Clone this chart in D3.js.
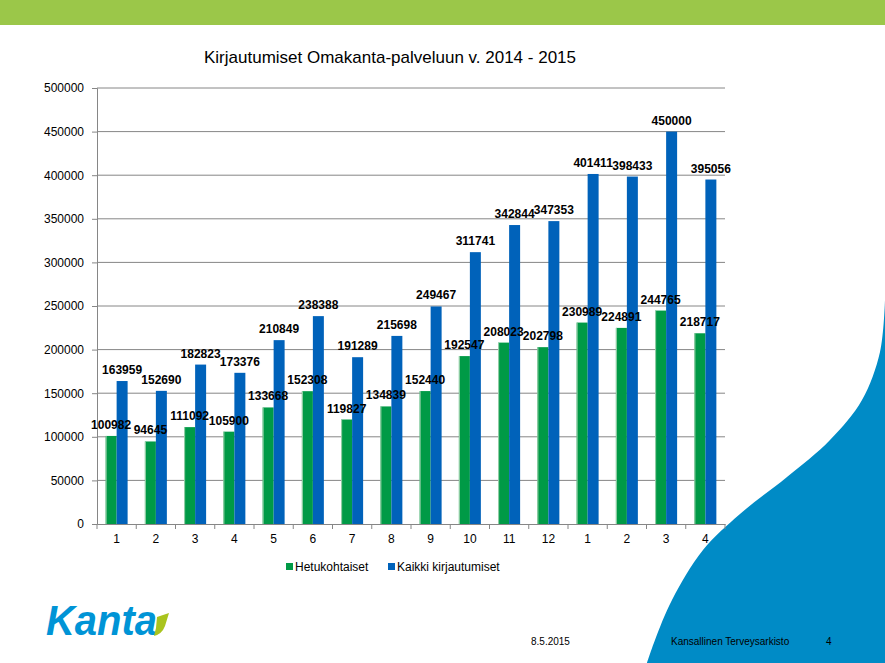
<!DOCTYPE html>
<html><head><meta charset="utf-8">
<script src="https://cdn.jsdelivr.net/npm/d3@7"></script>
<style>body{margin:0;background:#fff}svg{display:block}text{font-family:"Liberation Sans",Arial,sans-serif}</style>
</head><body>
<script>
const months = ["1","2","3","4","5","6","7","8","9","10","11","12","1","2","3","4"];
const hetukohtaiset = [100982,94645,111092,105900,133668,152308,119827,134839,152440,192547,208023,202798,230989,224891,244765,218717];
const kaikki = [163959,152690,182823,173376,210849,238388,191289,215698,249467,311741,342844,347353,401411,398433,450000,395056];
const yTicks = [0,50000,100000,150000,200000,250000,300000,350000,400000,450000,500000];
const seriesNames = ["Hetukohtaiset","Kaikki kirjautumiset"];
const seriesColors = ["#009A46","#0062BA"];
const title = "Kirjautumiset Omakanta-palveluun v. 2014 - 2015";

const W=885,H=663;
const svg=d3.select("body").append("svg").attr("width",W).attr("height",H);

// decoration: banner
svg.append("rect").attr("x",0).attr("y",0).attr("width",W).attr("height",25).attr("fill","#9BC749");
// swoosh
const sw=[[885,300],[880,352],[862,400],[830,440],[787,477],[740,514],[703,550],[672,600],[655,640],[647,663]];
const swLine=d3.line().curve(d3.curveCatmullRom);
svg.append("path").attr("d",swLine(sw)+"L885,663Z").attr("fill","#008BC6");

const m={l:97,r:725,t:88,b:524};
const x=d3.scaleBand().domain(d3.range(months.length)).range([m.l,m.r]).paddingInner(0.44).paddingOuter(0.22);
const xs=d3.scaleBand().domain([0,1]).range([0,x.bandwidth()]);
const y=d3.scaleLinear().domain([0,500000]).range([m.b,m.t]);

// gridlines
svg.append("g").selectAll("line").data(yTicks.filter(d=>d>0)).join("line")
 .attr("x1",m.l).attr("x2",m.r).attr("y1",d=>y(d)).attr("y2",d=>y(d)).attr("stroke","#868686").attr("stroke-width",1);

// y axis
const ya=svg.append("g").attr("transform",`translate(${m.l},0)`).call(d3.axisLeft(y).tickValues(yTicks).tickFormat(d3.format("d")).tickSize(5).tickPadding(8));
ya.select(".domain").attr("stroke","#868686");
ya.selectAll(".tick line").attr("stroke","#868686");
ya.selectAll("text").attr("font-size",12).attr("fill","#000").attr("font-family","Liberation Sans, Arial, sans-serif");

// bars
const series=[hetukohtaiset,kaikki];
series.forEach((vals,si)=>{
  const g=svg.append("g");
  g.selectAll("rect").data(vals).join("rect")
   .attr("x",(d,i)=>x(i)+xs(si)).attr("width",xs.bandwidth())
   .attr("y",d=>y(d)).attr("height",d=>y(0)-y(d)).attr("fill",seriesColors[si]);
  if(si===0){
    g.selectAll("line").data(vals).join("line")
     .attr("x1",(d,i)=>x(i)+xs(si)+0.5).attr("x2",(d,i)=>x(i)+xs(si)+0.5)
     .attr("y1",d=>y(d)).attr("y2",y(0)).attr("stroke","#9fd3ae").attr("stroke-width",1);
  }
});
// labels (blue first, green on top)
[1,0].forEach(si=>{
  svg.append("g").selectAll("text").data(series[si]).join("text")
   .attr("x",(d,i)=>x(i)+xs(si)+xs.bandwidth()/2).attr("y",d=>y(d)-7)
   .attr("text-anchor","middle").attr("font-size",12).attr("font-weight","bold").attr("fill","#000").text(d=>d);
});

// x axis
const xa=svg.append("g").attr("transform",`translate(0,${m.b})`)
 .call(d3.axisBottom(x).tickFormat(i=>months[i]).tickSize(0).tickPadding(10));
xa.select(".domain").attr("stroke","#868686");
xa.selectAll("text").attr("font-size",12).attr("fill","#000").attr("font-family","Liberation Sans, Arial, sans-serif");
const step=x.step();
svg.append("g").selectAll("line").data(d3.range(months.length+1)).join("line")
 .attr("x1",i=>m.l+i*step).attr("x2",i=>m.l+i*step).attr("y1",m.b).attr("y2",m.b+5).attr("stroke","#868686");

// title
svg.append("text").attr("x",390).attr("y",63).attr("text-anchor","middle").attr("font-size",17).attr("fill","#000").text(title);

// legend
const lg=svg.append("g");
const lx=[286,388];
seriesNames.forEach((n,i)=>{
  lg.append("rect").attr("x",lx[i]).attr("y",563).attr("width",7).attr("height",7).attr("fill",seriesColors[i]);
  lg.append("text").attr("x",lx[i]+9).attr("y",570.5).attr("font-size",12).attr("fill","#000").text(n);
});

// footer
svg.append("text").attr("x",531).attr("y",645).attr("font-size",10).attr("fill","#000").text("8.5.2015");
svg.append("text").attr("x",671).attr("y",645).attr("font-size",10).attr("fill","#000").text("Kansallinen Terveysarkisto");
svg.append("text").attr("x",826).attr("y",645).attr("font-size",10).attr("fill","#000").text("4");

// logo
svg.append("text").attr("x",46).attr("y",635).attr("font-size",42).attr("font-weight","bold").attr("font-style","italic")
 .attr("textLength",111).attr("lengthAdjust","spacingAndGlyphs").attr("fill","#0094D6").text("Kanta");
svg.append("path").attr("d","M157,617 L169,613 L165,626 Q162,634 154,636 L156,628 Z").attr("fill","#A9C41E");
</script>
</body></html>
